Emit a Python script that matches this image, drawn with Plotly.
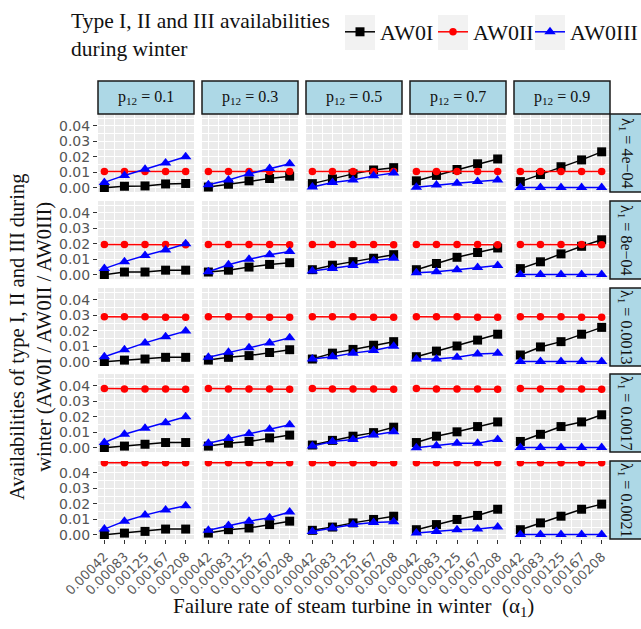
import plotly.graph_objects as go

# ---------------- data ----------------
alpha1 = [0.00042, 0.00083, 0.00125, 0.00167, 0.00208]
alpha1_labels = ["0.00042", "0.00083", "0.00125", "0.00167", "0.00208"]
p12_values = ["0.1", "0.3", "0.5", "0.7", "0.9"]
lambda1_labels = ["4e\u221204", "8e\u221204", "0.0013", "0.0017", "0.0021"]

# [row = lambda1][col = p12][point along alpha1]
AW0I = [
    [[0.0000, 0.0010, 0.0012, 0.0025, 0.0028], [0.0005, 0.0023, 0.0045, 0.0060, 0.0075],
     [0.0027, 0.0057, 0.0090, 0.0115, 0.0130], [0.0045, 0.0080, 0.0118, 0.0155, 0.0186],
     [0.0040, 0.0086, 0.0136, 0.0180, 0.0232]],
    [[0.0000, 0.0018, 0.0018, 0.0030, 0.0030], [0.0018, 0.0030, 0.0050, 0.0067, 0.0078],
     [0.0033, 0.0062, 0.0085, 0.0107, 0.0130], [0.0033, 0.0073, 0.0113, 0.0144, 0.0173],
     [0.0040, 0.0084, 0.0135, 0.0184, 0.0226]],
    [[0.0000, 0.0011, 0.0018, 0.0029, 0.0029], [0.0011, 0.0029, 0.0040, 0.0060, 0.0078],
     [0.0018, 0.0056, 0.0080, 0.0107, 0.0130], [0.0033, 0.0069, 0.0102, 0.0140, 0.0178],
     [0.0044, 0.0096, 0.0130, 0.0178, 0.0222]],
    [[0.0000, 0.0011, 0.0023, 0.0034, 0.0034], [0.0011, 0.0030, 0.0041, 0.0064, 0.0082],
     [0.0018, 0.0048, 0.0075, 0.0098, 0.0133], [0.0034, 0.0075, 0.0103, 0.0137, 0.0167],
     [0.0041, 0.0087, 0.0137, 0.0167, 0.0213]],
    [[0.0000, 0.0011, 0.0022, 0.0037, 0.0037], [0.0011, 0.0033, 0.0044, 0.0066, 0.0088],
     [0.0029, 0.0050, 0.0077, 0.0099, 0.0120], [0.0033, 0.0066, 0.0099, 0.0125, 0.0165],
     [0.0033, 0.0077, 0.0120, 0.0165, 0.0198]],
]

AW0II = [
    [[0.0105, 0.0105, 0.0105, 0.0105, 0.0105]] * 5,
    [[0.0196, 0.0196, 0.0196, 0.0196, 0.0194]] * 5,
    [[0.0290, 0.0290, 0.0290, 0.0288, 0.0288]] * 5,
    [[0.0382, 0.0380, 0.0380, 0.0380, 0.0378]] * 5,
    [[0.0465, 0.0465, 0.0464, 0.0464, 0.0464]] * 5,
]

AW0III = [
    [[0.0035, 0.0080, 0.0120, 0.0160, 0.0200], [0.0020, 0.0050, 0.0090, 0.0125, 0.0155],
     [0.0005, 0.0034, 0.0050, 0.0077, 0.0095], [0.0003, 0.0018, 0.0030, 0.0040, 0.0050],
     [0.0002, 0.0002, 0.0002, 0.0002, 0.0002]],
    [[0.0040, 0.0085, 0.0125, 0.0160, 0.0200], [0.0020, 0.0065, 0.0100, 0.0130, 0.0150],
     [0.0024, 0.0040, 0.0060, 0.0090, 0.0107], [0.0013, 0.0020, 0.0033, 0.0047, 0.0060],
     [0.0002, 0.0002, 0.0002, 0.0002, 0.0002]],
    [[0.0033, 0.0078, 0.0122, 0.0162, 0.0198], [0.0030, 0.0062, 0.0090, 0.0122, 0.0155],
     [0.0018, 0.0033, 0.0056, 0.0073, 0.0100], [0.0018, 0.0018, 0.0029, 0.0050, 0.0056],
     [0.0002, 0.0002, 0.0002, 0.0002, 0.0002]],
    [[0.0034, 0.0087, 0.0126, 0.0162, 0.0200], [0.0030, 0.0060, 0.0090, 0.0120, 0.0149],
     [0.0011, 0.0041, 0.0053, 0.0082, 0.0103], [0.0000, 0.0014, 0.0030, 0.0030, 0.0053],
     [0.0002, 0.0002, 0.0002, 0.0002, 0.0002]],
    [[0.0037, 0.0088, 0.0127, 0.0160, 0.0187], [0.0029, 0.0060, 0.0088, 0.0110, 0.0147],
     [0.0022, 0.0044, 0.0066, 0.0080, 0.0084], [0.0011, 0.0022, 0.0033, 0.0037, 0.0050],
     [0.0002, 0.0002, 0.0002, 0.0002, 0.0002]],
]

y_ticks = [0.00, 0.01, 0.02, 0.03, 0.04]
y_tick_labels = ["0.00", "0.01", "0.02", "0.03", "0.04"]

# ---------------- layout geometry (pixels) ----------------
W, H = 641, 629
col_left = [98, 202, 306, 410, 514]
col_w = 96
row_top = [114, 201, 288, 374, 461]
row_h = 78
strip_top, strip_bot = 81, 114

SERIF = "Liberation Serif"
SANS = "DejaVu Sans"
TXT = "#111111"

series = [
    ("AW0I", AW0I, "black", "square", 9, 48),
    ("AW0II", AW0II, "red", "circle", 7.5, 52),
    ("AW0III", AW0III, "blue", "triangle-up", 10, 80),
]

fig = go.Figure()
layout = {}
x_minor = [(alpha1[i] + alpha1[i + 1]) / 2 for i in range(4)]
y_minor = [0.005, 0.015, 0.025, 0.035, 0.045]

for r in range(5):
    for c in range(5):
        k = r * 5 + c + 1
        xa = "x" if k == 1 else f"x{k}"
        ya = "y" if k == 1 else f"y{k}"
        for name, data, color, sym, size, lw in series:
            fig.add_trace(go.Scatter(
                x=alpha1, y=data[r][c], xaxis=xa, yaxis=ya,
                mode="lines+markers", name=name,
                line=dict(color=color, width=1.5),
                marker=dict(color=color, symbol=sym, size=size),
                showlegend=(k == 1), legendgroup=name, legendwidth=lw,
            ))
        x0 = col_left[c] / W
        x1 = (col_left[c] + col_w) / W
        y1 = 1 - row_top[r] / H
        y0 = 1 - (row_top[r] + row_h) / H
        xkey = "xaxis" if k == 1 else f"xaxis{k}"
        ykey = "yaxis" if k == 1 else f"yaxis{k}"
        bottom = (r == 4)
        left = (c == 0)
        layout[xkey] = dict(
            domain=[x0, x1], anchor=ya, range=[0.00029, 0.00225], automargin=False,
            tickmode="array", tickvals=alpha1, ticktext=alpha1_labels,
            showticklabels=bottom, ticks="outside" if bottom else "",
            ticklen=4, tickcolor="#333333", tickwidth=1,
            tickangle=-45, tickfont=dict(family=SANS, size=13, color="#5a5a5a"),
            showgrid=True, gridcolor="white", gridwidth=1.1, zeroline=False,
            showline=False,
            minor=dict(tickvals=x_minor, showgrid=True, gridcolor="white", gridwidth=0.6, ticks=""),
        )
        layout[ykey] = dict(
            domain=[y0, y1], anchor=xa, range=[-0.0027, 0.0476], automargin=False,
            tickmode="array", tickvals=y_ticks, ticktext=y_tick_labels,
            showticklabels=left, ticks="outside" if left else "",
            ticklen=4, tickcolor="#333333", tickwidth=1,
            tickfont=dict(family=SANS, size=14, color="#555555"),
            showgrid=True, gridcolor="white", gridwidth=1.1, zeroline=False,
            showline=False,
            minor=dict(tickvals=y_minor, showgrid=True, gridcolor="white", gridwidth=0.6, ticks=""),
        )

shapes = []
annotations = []
# panel backgrounds
for r in range(5):
    for c in range(5):
        shapes.append(dict(type="rect", xref="paper", yref="paper", layer="below",
                           x0=col_left[c] / W, x1=(col_left[c] + col_w) / W,
                           y0=1 - (row_top[r] + row_h) / H, y1=1 - row_top[r] / H,
                           fillcolor="#EBEBEB", line=dict(width=0)))
# top strips
for c in range(5):
    shapes.append(dict(type="rect", xref="paper", yref="paper",
                       x0=col_left[c] / W, x1=(col_left[c] + col_w) / W,
                       y0=1 - strip_bot / H, y1=1 - strip_top / H,
                       fillcolor="#ADD8E6", line=dict(color="#1a1a1a", width=1.5)))
    annotations.append(dict(xref="paper", yref="paper",
                            x=(col_left[c] + col_w / 2) / W, y=1 - (strip_top + strip_bot) / 2 / H,
                            xanchor="center", yanchor="middle",
                            text=f"p<sub>12</sub> = {p12_values[c]}", showarrow=False,
                            font=dict(family=SERIF, size=16, color=TXT)))
# right strips
for r in range(5):
    shapes.append(dict(type="rect", xref="paper", yref="paper",
                       x0=610 / W, x1=648 / W,
                       y0=1 - (row_top[r] + row_h) / H, y1=1 - row_top[r] / H,
                       fillcolor="#ADD8E6", line=dict(color="#1a1a1a", width=1.5)))
    annotations.append(dict(xref="paper", yref="paper",
                            x=626 / W, y=1 - (row_top[r] + row_h / 2) / H,
                            xanchor="center", yanchor="middle",
                            text=f"\u03bb<sub>1</sub> = {lambda1_labels[r]}", showarrow=False,
                            textangle=90, font=dict(family=SERIF, size=16, color=TXT)))
# legend key backgrounds
for kx in [345, 438, 535]:
    shapes.append(dict(type="rect", xref="paper", yref="paper",
                       x0=kx / W, x1=(kx + 30) / W, y0=1 - 50 / H, y1=1 - 15 / H,
                       fillcolor="#F2F2F2", line=dict(width=0), layer="below"))

# titles
annotations.append(dict(xref="paper", yref="paper", x=69 / W, y=1 - 7 / H,
                        xanchor="left", yanchor="top", align="left",
                        text="Type I, II and III availabilities<br>during winter", showarrow=False,
                        font=dict(family=SERIF, size=21.5, color=TXT)))
annotations.append(dict(xref="paper", yref="paper", x=354 / W, y=1 - 607 / H,
                        xanchor="center", yanchor="middle",
                        text="Failure rate of steam turbine in winter  (\u03b1<sub>1</sub>)",
                        showarrow=False, font=dict(family=SERIF, size=21, color=TXT)))
annotations.append(dict(xref="paper", yref="paper", x=31 / W, y=1 - 337 / H,
                        xanchor="center", yanchor="middle",
                        text="Availabilities of type I, II and III during<br>winter (AW0I / AW0II / AW0III)",
                        textangle=-90, showarrow=False,
                        font=dict(family=SERIF, size=20.5, color=TXT)))

fig.update_layout(
    width=W, height=H, margin=dict(l=0, r=0, t=0, b=0, autoexpand=False),
    plot_bgcolor="white", paper_bgcolor="white",
    shapes=shapes, annotations=annotations,
    showlegend=True,
    legend=dict(orientation="h", x=340 / W, y=1 - 32 / H, xanchor="left", yanchor="middle",
                bgcolor="rgba(0,0,0,0)", font=dict(family=SERIF, size=22, color=TXT),
                itemwidth=30, tracegroupgap=0),
    **layout,
)

fig.write_html("out.html")
